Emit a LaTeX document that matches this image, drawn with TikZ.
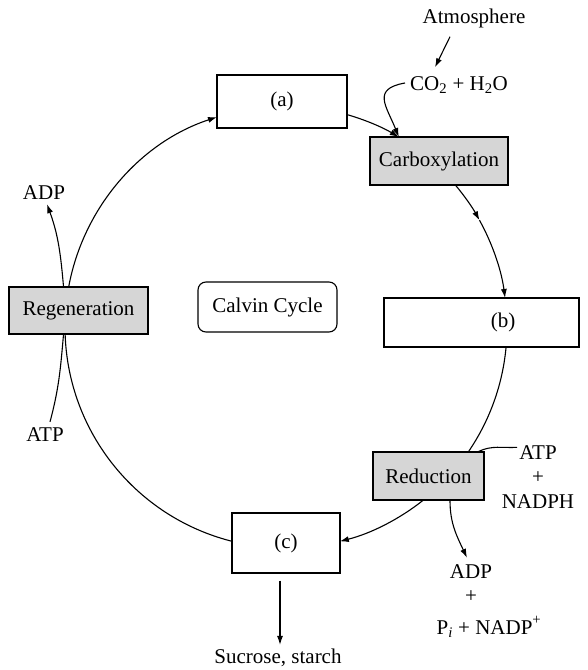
\documentclass[tikz,border=0pt]{standalone}
\usepackage{fontspec}
\setmainfont{Liberation Serif}
\usetikzlibrary{arrows.meta,calc}
\begin{document}
\begin{tikzpicture}[x=1pt,y=1pt,
  font=\fontsize{21}{24.5}\selectfont,
  box/.style={draw, line width=1.1pt, fill=white, inner sep=0pt},
  shbox/.style={box, fill=gray!32},
  cyc/.style={line width=1.1pt},
  arr/.style={cyc, -{Latex[length=9pt,width=6pt]}},
  lbl/.style={inner sep=0pt}
]
\useasboundingbox (0,0) rectangle (587,670);
\coordinate (O) at (286,343);

% boxes
\node[box, minimum width=130pt, minimum height=53pt] (a) at (282,568.5) {(a)};
\node[shbox, minimum width=138pt, minimum height=48pt] (carb) at (439,509) {Carboxylation};
\node[box, minimum width=195pt, minimum height=49pt] (b) at (481.5,347.5) {\hspace*{43pt}(b)};
\node[shbox, minimum width=111pt, minimum height=48pt] (red) at (428.5,194) {Reduction};
\node[box, minimum width=108pt, minimum height=60pt] (c) at (286,127) {(c)};
\node[shbox, minimum width=139pt, minimum height=47pt] (reg) at (78.5,359.5) {Regeneration};
\node[box, rounded corners=8pt, minimum width=139pt, minimum height=50pt] (calvin) at (267.5,363) {Calvin Cycle};

% labels
\node[lbl] (atm) at (474,652) {Atmosphere};
\node[lbl] (co2) at (459,585) {CO\textsubscript{2} + H\textsubscript{2}O};
\node[lbl] (adp1) at (44,477) {ADP};
\node[lbl] (atp1) at (45,235) {ATP};
\node[lbl, align=center] (atp2) at (538,193) {ATP\\+\\NADPH};
\node[lbl] (adp2) at (471,98) {ADP};
\node[lbl] (plus2) at (471,73) {+};
\node[lbl] (pi) at (489,43) {P\textsubscript{\itshape i} + NADP\raisebox{3pt}{\textsuperscript{+}}};
\node[lbl] (sucr) at (278,12) {Sucrose, starch};

% points on the cycle
\foreach \n/\ang in {rt/169.6, al/108.2, ar/74.0, ct/59.3, cb/40.0, mid/28.9, bt/7.54, bb/-5.19, rdt/-34.4, rdb/-51.5, cr/-75.9, cl/-104.1, rb/-178.2}
  \coordinate (\n) at ($(O)+(\ang:221)$);

% cycle arcs
\draw[arr] (rt) arc[start angle=169.6, end angle=108.2, radius=221pt];
\draw[arr] (ar) arc[start angle=74.0, end angle=59.3, radius=221pt];
\draw[arr] (cb) arc[start angle=40.0, end angle=28.9, radius=221pt];
\draw[arr] (mid) arc[start angle=28.9, end angle=7.54, radius=221pt];
\draw[cyc] (bb) arc[start angle=-5.19, end angle=-34.4, radius=221pt];
\draw[arr] (rdb) arc[start angle=-51.5, end angle=-75.9, radius=221pt];
\draw[cyc] (cl) arc[start angle=-104.1, end angle=-178.2, radius=221pt];

% side connectors
\coordinate (atmS) at ($(atm.south)+(-24,-9)$);
\coordinate (co2N) at ($(co2.north)+(-24,9)$);
\draw[arr] (atmS) -- (co2N);

\coordinate (co2W) at ($(co2.west)+(-5,2)$);
\draw[arr] (co2W) to[out=190, in=112, looseness=1.6] (ct);

\coordinate (regA) at ($(reg.north)+(-15,0)$);
\coordinate (adpT) at ($(adp1.south)+(3,-4)$);
\draw[arr] (regA) to[out=95, in=-70] (adpT);

\coordinate (regB) at ($(reg.south)+(-15,0)$);
\coordinate (atpT) at ($(atp1.north)+(5,6)$);
\draw[cyc] (atpT) to[out=75, in=-95] (regB);

\coordinate (atp2W) at ($(atp2.north)+(-21,-2)$);
\coordinate (redT) at ($(red.north east)+(-6,0)$);
\draw[cyc] (atp2W) to[out=183, in=25] (redT);

\coordinate (redB) at ($(red.south)+(21.5,0)$);
\coordinate (adp2T) at ($(adp2.north)+(-4,7)$);
\draw[arr] (redB) to[out=-90, in=115] (adp2T);

\coordinate (cS) at ($(c.south)+(-6,-7)$);
\coordinate (sucrN) at ($(sucr.north)+(2,4)$);
\draw[arr] (cS) -- (sucrN);
\end{tikzpicture}
\end{document}
